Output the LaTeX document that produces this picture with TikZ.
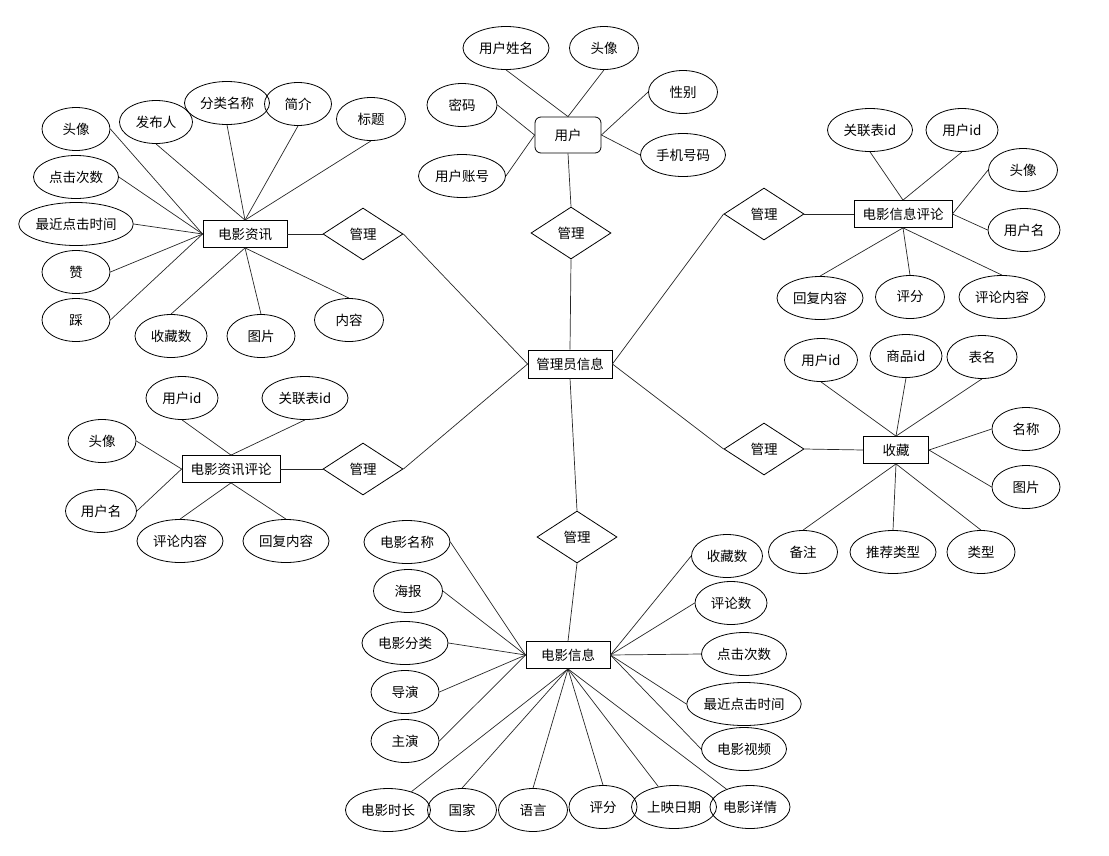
\documentclass[tikz,border=0pt]{standalone}
\usepackage{fontspec}
\setmainfont{Noto Sans CJK SC}
\usetikzlibrary{shapes.geometric}

\tikzset{
  attr/.style={ellipse, draw, inner sep=0pt, minimum height=43pt, minimum width=#1},
  attr/.default=69pt,
  entity/.style={rectangle, draw, inner sep=0pt, minimum height=27pt, minimum width=#1},
  entity/.default=84pt,
  rel/.style={diamond, draw, inner sep=0pt, minimum width=80pt, minimum height=52pt},
  link/.style={draw, black!85, line width=0.7pt}
}

\begin{document}
\begin{tikzpicture}[x=1pt, y=-1pt, line width=0.8pt, font=\fontsize{13.5}{15}\selectfont]
  \useasboundingbox (0,0) rectangle (1109,855);

  % central entity
  \node[entity, minimum height=28pt] (admin) at (570,364) {管理员信息};

  % user
  \node[entity=66pt, minimum height=36pt, rounded corners=6pt] (u) at (568,135) {用户};
  \node[attr=86pt] (u1) at (506,48) {用户姓名};
  \node[attr] (u2) at (604,48) {头像};
  \node[attr=70pt] (u3) at (462,105) {密码};
  \node[attr] (u4) at (683,92) {性别};
  \node[attr=87pt] (u5) at (462,176) {用户账号};
  \node[attr=85pt] (u6) at (683,155) {手机号码};
  \node[rel] (r1) at (571,233) {管理};
  \foreach \a in {u1,u2} \draw[link] (\a.south) -- (u.north);
  \foreach \a in {u3,u5} \draw[link] (\a.east) -- (u.west);
  \foreach \a in {u4,u6} \draw[link] (\a.west) -- (u.east);
  \draw[link] (u.south) -- (r1.north);
  \draw[link] (r1.south) -- (admin.north);

  % movie news
  \node[entity] (n) at (245,234) {电影资讯};
  \node[attr=68pt] (n1) at (76,129) {头像};
  \node[attr=73pt] (n2) at (156,122) {发布人};
  \node[attr=85pt] (n3) at (227,103) {分类名称};
  \node[attr=67pt] (n4) at (298,104) {简介};
  \node[attr] (n5) at (371,119) {标题};
  \node[attr=85pt] (n6) at (76,177) {点击次数};
  \node[attr=114pt] (n7) at (76,224) {最近点击时间};
  \node[attr=68pt] (n8) at (76,272) {赞};
  \node[attr=68pt] (n9) at (76,320) {踩};
  \node[attr=72pt] (n10) at (171,336) {收藏数};
  \node[attr=68pt] (n11) at (261,336) {图片};
  \node[attr] (n12) at (349,320) {内容};
  \node[rel] (r2) at (363,234) {管理};
  \foreach \a in {n1,n6,n7,n8,n9} \draw[link] (\a.east) -- (n.west);
  \foreach \a in {n2,n3,n4,n5} \draw[link] (\a.south) -- (n.north);
  \foreach \a in {n10,n11,n12} \draw[link] (\a.north) -- (n.south);
  \draw[link] (n.east) -- (r2.west);
  \draw[link] (r2.east) -- (admin.west);

  % movie info comments
  \node[entity=98pt] (c) at (903,214) {电影信息评论};
  \node[attr=85pt] (c1) at (870,130) {关联表id};
  \node[attr=72pt] (c2) at (962,130) {用户id};
  \node[attr] (c3) at (1023,170) {头像};
  \node[attr=72pt] (c4) at (1024,230) {用户名};
  \node[attr=86pt] (c5) at (820,298) {回复内容};
  \node[attr] (c6) at (910,297) {评分};
  \node[attr=86pt] (c7) at (1002,297) {评论内容};
  \node[rel] (r3) at (764,214) {管理};
  \foreach \a in {c1,c2} \draw[link] (\a.south) -- (c.north);
  \foreach \a in {c3,c4} \draw[link] (\a.west) -- (c.east);
  \foreach \a in {c5,c6,c7} \draw[link] (\a.north) -- (c.south);
  \draw[link] (admin.east) -- (r3.west);
  \draw[link] (r3.east) -- (c.west);

  % movie news comments
  \node[entity=98pt] (d) at (231,469) {电影资讯评论};
  \node[attr=72pt] (d1) at (182,398) {用户id};
  \node[attr=86pt] (d2) at (305,398) {关联表id};
  \node[attr=68pt] (d3) at (102,441) {头像};
  \node[attr=71pt] (d4) at (101,511) {用户名};
  \node[attr=86pt] (d5) at (180,541) {评论内容};
  \node[attr=86pt] (d6) at (286,541) {回复内容};
  \node[rel] (r4) at (363,469) {管理};
  \foreach \a in {d1,d2} \draw[link] (\a.south) -- (d.north);
  \foreach \a in {d3,d4} \draw[link] (\a.east) -- (d.west);
  \foreach \a in {d5,d6} \draw[link] (\a.north) -- (d.south);
  \draw[link] (d.east) -- (r4.west);
  \draw[link] (r4.east) -- (admin.west);

  % favourites
  \node[entity=65pt] (s) at (896,450) {收藏};
  \node[attr=73pt] (s1) at (821,360) {用户id};
  \node[attr=72pt] (s2) at (906,356) {商品id};
  \node[attr=70pt] (s3) at (982,357) {表名};
  \node[attr=68pt] (s4) at (1026,429) {名称};
  \node[attr=68pt] (s5) at (1026,487) {图片};
  \node[attr] (s6) at (803,552) {备注};
  \node[attr=86pt] (s7) at (893,552) {推荐类型};
  \node[attr=68pt] (s8) at (981,552) {类型};
  \node[rel] (r5) at (764,449) {管理};
  \foreach \a in {s1,s2,s3} \draw[link] (\a.south) -- (s.north);
  \foreach \a in {s4,s5} \draw[link] (\a.west) -- (s.east);
  \foreach \a in {s6,s7,s8} \draw[link] (\a.north) -- (s.south);
  \draw[link] (admin.east) -- (r5.west);
  \draw[link] (r5.east) -- (s.west);

  % movie info
  \node[entity] (m) at (568,655) {电影信息};
  \node[attr=86pt] (m1) at (407,542) {电影名称};
  \node[attr] (m2) at (408,591) {海报};
  \node[attr=86pt] (m3) at (405,643) {电影分类};
  \node[attr=68pt] (m4) at (405,692) {导演};
  \node[attr=68pt] (m5) at (405,741) {主演};
  \node[attr=85pt] (m6) at (388,810) {电影时长};
  \node[attr] (m7) at (462,810) {国家};
  \node[attr] (m8) at (533,810) {语言};
  \node[attr=68pt] (m9) at (603,807) {评分};
  \node[attr=85pt] (m10) at (674,807) {上映日期};
  \node[attr=80pt] (m11) at (750,807) {电影详情};
  \node[attr=71pt] (m12) at (727,556) {收藏数};
  \node[attr=72pt] (m13) at (731,603) {评论数};
  \node[attr=85pt] (m14) at (744,654) {点击次数};
  \node[attr=114pt] (m15) at (744,704) {最近点击时间};
  \node[attr=85pt] (m16) at (744,749) {电影视频};
  \node[rel] (r6) at (577,537) {管理};
  \foreach \a in {m1,m2,m3,m4,m5} \draw[link] (\a.east) -- (m.west);
  \foreach \a in {m7,m8,m9} \draw[link] (\a.north) -- (m.south);
  \foreach \a in {m6,m10,m11} \draw[link] (\a) -- (m.south);
  \foreach \a in {m12,m13,m14,m15,m16} \draw[link] (\a.west) -- (m.east);
  \draw[link] (admin.south) -- (r6.north);
  \draw[link] (r6.south) -- (m.north);
\end{tikzpicture}
\end{document}
